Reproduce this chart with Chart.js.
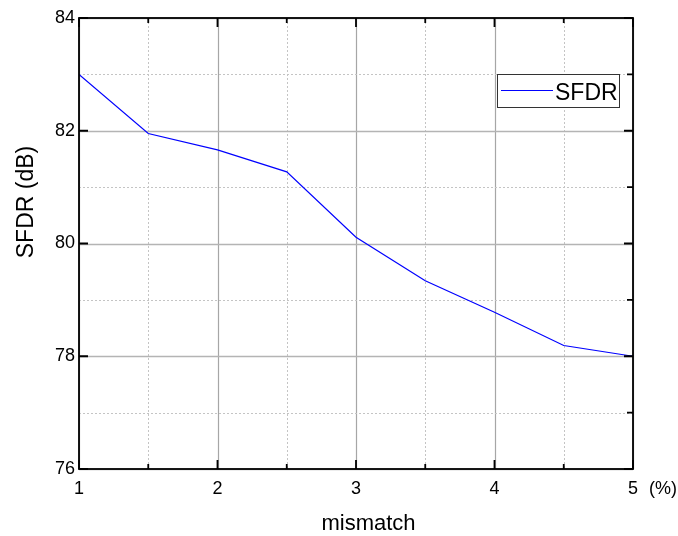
<!DOCTYPE html>
<html>
<head>
<meta charset="utf-8">
<script src="https://cdn.jsdelivr.net/npm/chart.js@4"></script>
<style>
  html, body { margin: 0; padding: 0; background: #fff; }
  #wrap { width: 678px; height: 536px; }
</style>
</head>
<body>
<div id="wrap"><canvas id="c" width="678" height="536"></canvas></div>
<script>
// ---- data ----
const mismatch = [1, 1.5, 2, 2.5, 3, 3.5, 4, 4.5, 5];
const sfdr = [83.0, 81.95, 81.66, 81.27, 80.11, 79.34, 78.78, 78.19, 78.0];
const xTickLabels = ['1', '2', '3', '4', '5'];
const yTickLabels = ['76', '78', '80', '82', '84'];
const seriesName = 'SFDR';
const xTitle = 'mismatch';
const yTitle = 'SFDR (dB)';
const xUnit = '(%)';

const FONT = '"Liberation Sans", Arial, sans-serif';

const framePlugin = {
  id: 'frame',
  beforeDatasetsDraw(chart) {
    const { ctx, chartArea: a, scales: { x, y } } = chart;
    ctx.save();
    for (let v = 1; v <= 5.0001; v += 0.5) {
      const px = Math.round(x.getPixelForValue(v)) + 0.5;
      const major = Math.abs(v - Math.round(v)) < 1e-6;
      ctx.beginPath();
      if (major) { ctx.setLineDash([]); ctx.strokeStyle = '#a6a6a6'; ctx.lineWidth = 1.2; }
      else { ctx.setLineDash([2, 2]); ctx.strokeStyle = '#c4c4c4'; ctx.lineWidth = 1; }
      ctx.moveTo(px, a.top); ctx.lineTo(px, a.bottom); ctx.stroke();
    }
    for (let v = 76; v <= 84; v += 1) {
      const py = Math.round(y.getPixelForValue(v)) + 0.5;
      const major = v % 2 === 0;
      ctx.beginPath();
      if (major) { ctx.setLineDash([]); ctx.strokeStyle = '#b4b4b4'; ctx.lineWidth = 1.3; }
      else { ctx.setLineDash([2, 2]); ctx.strokeStyle = '#c4c4c4'; ctx.lineWidth = 1; }
      ctx.moveTo(a.left, py); ctx.lineTo(a.right, py); ctx.stroke();
    }
    ctx.restore();
  },
  afterDraw(chart) {
    const { ctx, chartArea: a, scales: { x, y } } = chart;
    ctx.save();
    ctx.setLineDash([]);
    ctx.strokeStyle = '#000';
    ctx.lineWidth = 1.8;
    ctx.beginPath();
    for (let v = 1; v <= 5.0001; v += 0.5) {
      const px = x.getPixelForValue(v);
      const major = Math.abs(v - Math.round(v)) < 1e-6;
      const len = major ? 9 : 5;
      ctx.moveTo(px, a.bottom); ctx.lineTo(px, a.bottom - len);
      ctx.moveTo(px, a.top); ctx.lineTo(px, a.top + len);
    }
    for (let v = 76; v <= 84; v += 1) {
      const py = y.getPixelForValue(v);
      const major = v % 2 === 0;
      if (major) { ctx.moveTo(a.left, py); ctx.lineTo(a.left + 9, py); }
      ctx.moveTo(a.right, py); ctx.lineTo(a.right - (major ? 9 : 6), py);
    }
    ctx.stroke();
    ctx.strokeRect(a.left, a.top, a.right - a.left, a.bottom - a.top);

    // titles
    ctx.fillStyle = '#000';
    ctx.font = '22px ' + FONT;
    ctx.textAlign = 'center';
    ctx.textBaseline = 'alphabetic';
    ctx.fillText(xTitle, 368.5, 530);
    ctx.save();
    ctx.translate(33, 202);
    ctx.rotate(-Math.PI / 2);
    ctx.font = '23px ' + FONT;
    ctx.fillText(yTitle, 0, 0);
    ctx.restore();
    // unit label next to last x tick
    ctx.font = '18px ' + FONT;
    ctx.textAlign = 'left';
    ctx.fillText(xUnit, 649, 494);

    // legend
    const ds = chart.data.datasets[0];
    ctx.fillStyle = '#fff';
    ctx.fillRect(497, 74, 122, 34);
    ctx.lineWidth = 1;
    ctx.strokeStyle = '#333';
    ctx.strokeRect(497.5, 74.5, 122, 33);
    ctx.beginPath();
    ctx.strokeStyle = ds.borderColor;
    ctx.lineWidth = 1.2;
    ctx.moveTo(501, 90.5); ctx.lineTo(553, 90.5);
    ctx.stroke();
    ctx.fillStyle = '#000';
    ctx.font = '23px ' + FONT;
    ctx.textAlign = 'left';
    ctx.fillText(ds.label, 555, 100);
    ctx.restore();
  }
};

new Chart(document.getElementById('c'), {
  type: 'line',
  data: {
    datasets: [{
      label: seriesName,
      data: mismatch.map((m, i) => ({ x: m, y: sfdr[i] })),
      borderColor: '#0000ff',
      borderWidth: 1.2,
      pointRadius: 0,
      tension: 0,
      fill: false
    }]
  },
  options: {
    responsive: false,
    animation: false,
    layout: { padding: { top: 18, right: 45, left: 0, bottom: 0 } },
    plugins: { legend: { display: false }, tooltip: { enabled: false } },
    scales: {
      x: {
        type: 'linear', min: 1, max: 5,
        grid: { display: false, drawTicks: false }, border: { display: false },
        afterFit(s) { s.height = 67; },
        ticks: {
          stepSize: 0.5, autoSkip: false, maxRotation: 0, padding: 9,
          color: '#000', font: { family: FONT, size: 18 },
          callback(v) {
            const lbl = String(v);
            return xTickLabels.includes(lbl) ? lbl : '';
          }
        }
      },
      y: {
        min: 76, max: 84,
        grid: { display: false, drawTicks: false }, border: { display: false },
        afterFit(s) { s.width = 79; },
        ticks: {
          stepSize: 1, autoSkip: false, padding: 4,
          color: '#000', font: { family: FONT, size: 18 },
          callback(v) {
            const lbl = String(v);
            return yTickLabels.includes(lbl) ? lbl : '';
          }
        }
      }
    }
  },
  plugins: [framePlugin]
});
</script>
</body>
</html>
